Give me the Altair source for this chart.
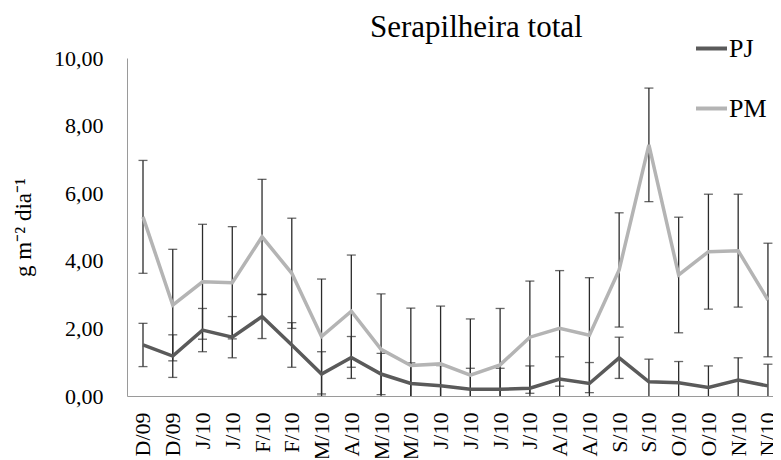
import altair as alt
import pandas as pd

labels = ["D/09", "D/09", "J/10", "J/10", "F/10", "F/10", "M/10", "A/10", "M/10", "M/10",
          "J/10", "J/10", "J/10", "J/10", "A/10", "A/10", "S/10", "S/10", "O/10", "O/10",
          "N/10", "N/10"]
pj_mean = [1.51, 1.18, 1.95, 1.74, 2.35, 1.51, 0.65, 1.14, 0.65, 0.37, 0.30,
           0.20, 0.20, 0.23, 0.50, 0.37, 1.13, 0.42, 0.39, 0.25, 0.47, 0.30]
pj_err = [0.64, 0.63, 0.64, 0.61, 0.65, 0.66, 0.66, 0.62, 0.61, 0.61, 0.60,
          0.62, 0.62, 0.66, 0.66, 0.62, 0.61, 0.67, 0.63, 0.64, 0.66, 0.64]
pm_mean = [5.30, 2.69, 3.38, 3.35, 4.71, 3.63, 1.76, 2.51, 1.38, 0.90, 0.95,
           0.62, 0.92, 1.74, 2.00, 1.80, 3.73, 7.43, 3.58, 4.27, 4.30, 2.84]
pm_err = [1.67, 1.65, 1.70, 1.66, 1.70, 1.63, 1.70, 1.66, 1.64, 1.70, 1.71,
          1.66, 1.67, 1.66, 1.71, 1.70, 1.69, 1.68, 1.71, 1.70, 1.67, 1.68]
series_names = ["PJ", "PM"]
series_colors = ["#5a5a5a", "#b4b4b4"]
y_ticks = [0, 2, 4, 6, 8, 10]

rows = []
for name, means, errs in (("PJ", pj_mean, pj_err), ("PM", pm_mean, pm_err)):
    for i, (m, e) in enumerate(zip(means, errs)):
        rows.append({"idx": i, "label": labels[i], "series": name,
                     "mean": m, "lo": m - e, "hi": m + e})
df = pd.DataFrame(rows)

label_js = "[" + ",".join(f"'{l}'" for l in labels) + "]"
FONT = "Liberation Serif"

x_scale = alt.Scale(domain=[-0.5376, 21.17], nice=False, zero=False)
y_scale = alt.Scale(domain=[0, 10], nice=False)

x_axis = alt.Axis(values=list(range(len(labels))), labelExpr=f"{label_js}[datum.value]",
                  labelAngle=-90, ticks=False, grid=False, labelFontSize=22,
                  labelPadding=16, labelColor="black", domainColor="#9a9a9a",
                  title=None, labelOverlap=False, labelFlush=False, labelBound=False)
y_axis = alt.Axis(values=y_ticks, labelExpr="replace(format(datum.value, '.2f'), '.', ',')",
                  ticks=False, grid=False, labelFontSize=22, labelPadding=24,
                  labelColor="black", domainColor="#9a9a9a",
                  title="g m⁻² dia⁻¹", titleFontSize=23, titleFontWeight="normal",
                  titleColor="black", titlePadding=18)

X = alt.X("idx:Q", scale=x_scale, axis=x_axis)
err_color = "#2b2b2b"

base = alt.Chart(df)
err_rule = base.mark_rule(color=err_color, strokeWidth=1.3, clip=True).encode(
    x=X, y=alt.Y("lo:Q", scale=y_scale, axis=y_axis), y2="hi:Q")
cap_hi = base.mark_tick(color=err_color, orient="horizontal", size=9, thickness=1.3, clip=True).encode(
    x=X, y=alt.Y("hi:Q", scale=y_scale, axis=y_axis))
cap_lo = base.mark_tick(color=err_color, orient="horizontal", size=9, thickness=1.3, clip=True).encode(
    x=X, y=alt.Y("lo:Q", scale=y_scale, axis=y_axis))
lines = base.mark_line(strokeWidth=3.5, clip=True).encode(
    x=X,
    y=alt.Y("mean:Q", scale=y_scale, axis=y_axis),
    color=alt.Color("series:N", scale=alt.Scale(domain=series_names, range=series_colors),
                    legend=alt.Legend(orient="none", legendX=567, legendY=-27, title=None,
                                      symbolType="stroke", symbolSize=961, symbolStrokeWidth=4,
                                      labelFont=FONT, labelFontSize=26, labelColor="black",
                                      rowPadding=29, labelOffset=0, padding=0)),
)

chart = alt.layer(err_rule, cap_hi, cap_lo, lines).properties(
    width=646, height=338,
    autosize=alt.AutoSizeParams(type="none"),
    padding={"left": 119, "top": 50, "right": 0, "bottom": 62},
    title=alt.TitleParams("Serapilheira total", font=FONT, fontSize=31, fontWeight="normal",
                          anchor="start", frame="group", dx=243, dy=23, offset=10, color="black"),
).configure_view(stroke=None).configure_axis(labelFont=FONT, titleFont=FONT)

chart.save("out.html", embed_options={"renderer": "svg", "actions": False})
